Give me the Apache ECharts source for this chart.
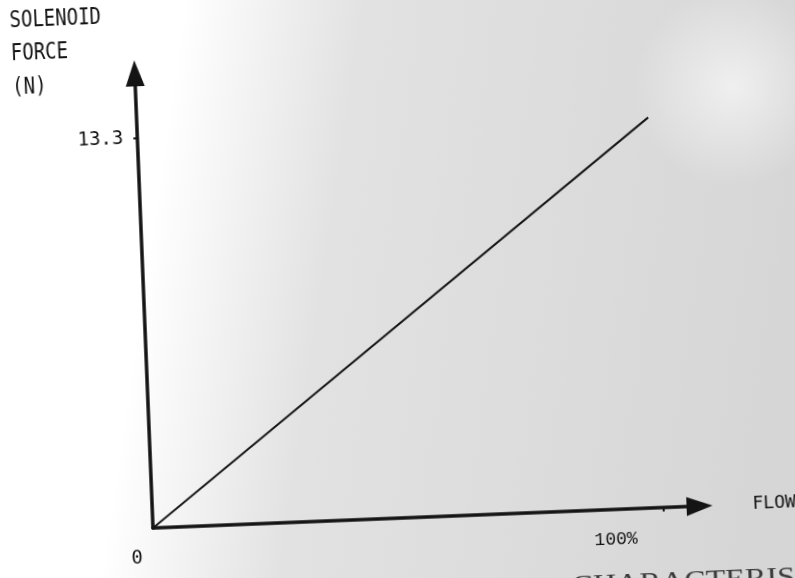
<!DOCTYPE html>
<html>
<head>
<meta charset="utf-8">
<title>Solenoid force vs flow</title>
<script src="https://cdn.jsdelivr.net/npm/echarts@6/dist/echarts.min.js"></script>
<style>
  html, body { margin: 0; padding: 0; width: 795px; height: 578px; overflow: hidden; background: #fff; }
  /* the plate is drawn slightly askew, so the whole chart is turned about its origin */
  #chart {
    position: absolute; left: -40px; top: -40px; width: 875px; height: 658px;
    transform-origin: 193px 568px; transform: rotate(-2.3deg);
  }
</style>
</head>
<body>
<div id="chart"></div>
<script>
// Flow (% of rated) against solenoid force (N)
const flowPct = [0, 100];
const forceN = [0, 13.3];

// Axis ticks and their labels
const xTicks = [0, 100];
const xTickLabels = ['0', '100%'];
const yTicks = [13.3];
const yTickLabels = ['13.3'];

const ink = '#141414';
const mono = "'DejaVu Sans Mono', 'Liberation Mono', monospace";

const chart = echarts.init(document.getElementById('chart'));

chart.setOption({
  animation: false,
  backgroundColor: {
    type: 'linear', x: 0, y: 0, x2: 1, y2: 0.25,
    colorStops: [
      { offset: 0, color: '#ffffff' },
      { offset: 0.28, color: '#ffffff' },
      { offset: 0.48, color: '#e2e2e2' },
      { offset: 1, color: '#d6d6d6' }
    ]
  },
  grid: { left: 193, top: 113, width: 547, height: 455, containLabel: false, outerBoundsMode: 'none' },
  xAxis: {
    type: 'value', min: 0, max: 107,
    name: 'FLOW', nameLocation: 'end', nameGap: 53,
    nameTextStyle: { color: ink, fontFamily: mono, fontSize: 18, verticalAlign: 'middle' },
    splitLine: { show: false },
    axisLine: {
      show: true, onZero: false,
      symbol: ['none', 'triangle'], symbolSize: [19, 26],
      lineStyle: { color: ink, width: 3.5 }
    },
    axisTick: { show: true, customValues: [100], length: 4, lineStyle: { color: ink, width: 2 } },
    axisLabel: {
      show: true, customValues: xTicks, margin: 21, color: ink,
      fontFamily: mono, fontSize: 19,
      formatter: function (v) {
        const i = xTicks.indexOf(v);
        return '{' + (i === 0 ? 'z' : 'p') + '|' + xTickLabels[i] + '}';
      },
      rich: {
        z: { fontFamily: mono, fontSize: 19, color: ink, padding: [0, 34, 0, 0] },
        p: { fontFamily: "'Liberation Mono', monospace", fontSize: 18, color: ink, padding: [0, 98, 0, 0] }
      }
    }
  },
  yAxis: {
    type: 'value', min: 0, max: 15.5,
    splitLine: { show: false },
    axisLine: {
      show: true, onZero: false,
      symbol: ['none', 'triangle'], symbolSize: [19, 26],
      lineStyle: { color: ink, width: 3.5 }
    },
    axisTick: { show: true, customValues: yTicks, length: 4, lineStyle: { color: ink, width: 2 } },
    axisLabel: {
      show: true, customValues: yTicks, margin: 14, color: ink,
      fontFamily: mono, fontSize: 19,
      formatter: function (v) { return yTickLabels[yTicks.indexOf(v)]; }
    }
  },
  series: [{
    type: 'line',
    data: flowPct.map(function (x, i) { return [x, forceN[i]]; }),
    showSymbol: false,
    lineStyle: { color: ink, width: 2 },
    z: 3
  }],
  graphic: [
    {
      // paler patch of the paper, upper right
      type: 'circle', silent: true, z: -10,
      shape: { cx: 790, cy: 150, r: 100 },
      style: {
        fill: {
          type: 'radial', x: 0.5, y: 0.5, r: 0.5,
          colorStops: [
            { offset: 0, color: 'rgba(255,255,255,0.6)' },
            { offset: 1, color: 'rgba(255,255,255,0)' }
          ]
        }
      }
    },
    {
      type: 'group', x: 70, y: 39, scaleY: 1.2,
      children: [{
        type: 'text',
        style: {
          text: 'SOLENOID\nFORCE\n(N)',
          fontFamily: mono, fontSize: 19, lineHeight: 28,
          fill: ink, align: 'left', verticalAlign: 'top'
        }
      }]
    },
    {
      type: 'group', x: 609, y: 630, scaleX: 1.15,
      children: [{
        type: 'text',
        style: {
          text: 'CHARACTERISTICS',
          fontFamily: "'Liberation Serif', 'DejaVu Serif', serif", fontSize: 28,
          fill: '#3a3a3a', align: 'left', verticalAlign: 'top'
        }
      }]
    }
  ]
});
</script>
</body>
</html>
